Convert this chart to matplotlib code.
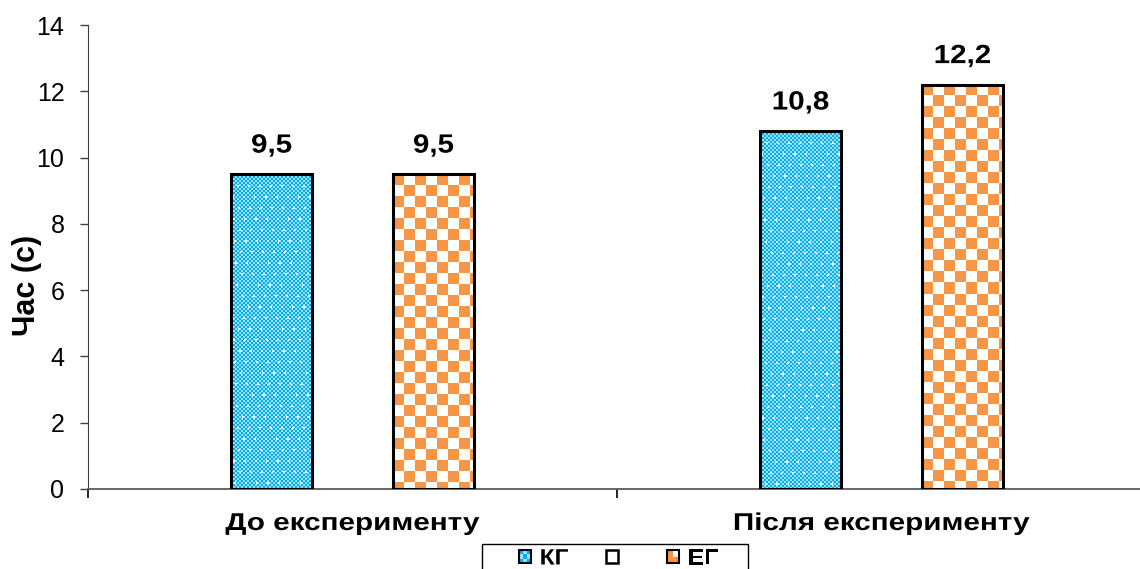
import numpy as np
import matplotlib
matplotlib.use("Agg")
import matplotlib.pyplot as plt
from matplotlib.patches import Rectangle
from matplotlib.patheffects import AbstractPathEffect
from matplotlib.transforms import Affine2D
from matplotlib.legend_handler import HandlerBase

# ---- data ----
categories = ["До експерименту", "Після експерименту"]
series_names = ["КГ", "", "ЕГ"]
kg_values = [9.5, 10.8]
blank_values = [np.nan, np.nan]
eg_values = [9.5, 12.2]
value_labels_kg = ["9,5", "10,8"]
value_labels_eg = ["9,5", "12,2"]
y_ticks = [0, 2, 4, 6, 8, 10, 12, 14]
y_label = "Час (с)"

plt.rcParams['font.family'] = ['Liberation Sans', 'DejaVu Sans']


class StretchX(AbstractPathEffect):
    """Widen glyphs horizontally (the reference text is stretched)."""
    def __init__(self, sx, anchor='center'):
        super().__init__()
        self.sx = sx
        self.anchor = anchor

    def draw_path(self, renderer, gc, tpath, affine, rgbFace=None):
        ext = tpath.get_extents()
        if self.anchor == 'right':
            cx = ext.x1
        elif self.anchor == 'left':
            cx = ext.x0
        else:
            cx = 0.5 * (ext.x0 + ext.x1)
        t = Affine2D().translate(-cx, 0).scale(self.sx, 1).translate(cx, 0) + affine
        renderer.draw_path(gc, tpath, t, rgbFace)


W, H, DPI = 1140, 569, 100
fig = plt.figure(figsize=(W / DPI, H / DPI), dpi=DPI)
ax = fig.add_axes([88 / W, 1 - 489 / H, (1146 - 88) / W, (489 - 25) / H])

BLUE = np.array([0x00, 0xAE, 0xF0]) / 255
LBLUE = np.array([0x9C, 0xE0, 0xFA]) / 255
ORANGE = np.array([0xF7, 0x96, 0x46]) / 255
WHITE = np.array([1.0, 1.0, 1.0])


def blue_pattern(h, w):
    yy, xx = np.mgrid[0:h, 0:w]
    chk = ((yy // 2 + xx // 2) % 2) == 0
    img = np.where(chk[..., None], BLUE, LBLUE)
    dots = ((yy % 11) < 2) & (((xx + (yy // 11) * 5) % 11) < 2)
    img[dots] = WHITE
    return img


def orange_pattern(h, w):
    yy, xx = np.mgrid[0:h, 0:w]
    chk = ((yy // 11 + xx // 11) % 2) == 0
    return np.where(chk[..., None], ORANGE, WHITE)


x = np.arange(len(categories))
bw = 0.153
offsets = [-bw, 0.0, bw]
series = [kg_values, blank_values, eg_values]
patterns = [blue_pattern, None, orange_pattern]

ax.set_xlim(-0.5, 1.5)
ax.set_ylim(0, 14)

px_per_x = (1146 - 88) / 2.0
px_per_y = (489 - 25) / 14.0

for vals, off, pat in zip(series, offsets, patterns):
    bars = ax.bar(x + off, vals, width=bw, facecolor='none',
                  edgecolor='black', linewidth=2.2, zorder=3)
    if pat is None:
        continue
    for b, v in zip(bars, vals):
        x0 = b.get_x()
        wpx = int(round(bw * px_per_x))
        hpx = int(round(v * px_per_y))
        img = pat(hpx, wpx)
        ax.imshow(img, extent=(x0, x0 + bw, 0, v), aspect='auto',
                  interpolation='nearest', origin='upper', zorder=2)

val_fx = [StretchX(1.12)]
for xi, v, lab in zip(x, kg_values, value_labels_kg):
    ax.text(xi + offsets[0], v + 0.65, lab, ha='center', va='baseline',
            fontsize=19, fontweight='bold', path_effects=val_fx)
for xi, v, lab in zip(x, eg_values, value_labels_eg):
    ax.text(xi + offsets[2], v + 0.65, lab, ha='center', va='baseline',
            fontsize=19, fontweight='bold', path_effects=val_fx)

ax.set_xlim(-0.5, 1.5)
ax.set_ylim(0, 14)

ax.set_yticks(y_ticks)
ax.set_yticklabels([str(t) for t in y_ticks], fontsize=18)
ax.tick_params(axis='y', direction='out', length=6, width=1, pad=11,
               color='#404040')

ax.set_xticks([-0.5, 0.5, 1.5])
ax.set_xticklabels([])
ax.tick_params(axis='x', direction='out', length=6.5, width=1.2, color='black')
cat_y = -(530 - 489) / px_per_y
for xi, c in zip(x, categories):
    ax.text(xi, cat_y, c, ha='center', va='baseline', fontsize=17.5,
            fontweight='bold', path_effects=[StretchX(1.22)])

ax.spines['top'].set_visible(False)
ax.spines['right'].set_visible(False)
ax.spines['left'].set_color('#404040')
ax.spines['bottom'].set_color('#5a5a5a')
ax.spines['bottom'].set_linewidth(1.3)

fig.text(27 / W, 1 - 285 / H, y_label, rotation=90, ha='center',
         va='center', fontsize=22, fontweight='bold')


# legend
class CheckerHandler(HandlerBase):
    def __init__(self, colors):
        super().__init__()
        self.colors = colors  # rows from bottom, each list of columns

    def create_artists(self, legend, orig_handle, xdescent, ydescent,
                       width, height, fontsize, trans):
        arts = []
        nr = len(self.colors)
        nc = len(self.colors[0])
        for r in range(nr):
            for c in range(nc):
                arts.append(Rectangle((-xdescent + c * width / nc,
                                       -ydescent + r * height / nr),
                                      width / nc, height / nr,
                                      facecolor=self.colors[r][c],
                                      edgecolor='none', transform=trans))
        arts.append(Rectangle((-xdescent, -ydescent), width, height,
                              facecolor='none', edgecolor='black',
                              linewidth=1.5, transform=trans))
        return arts


LB = '#9ce0fa'
h_kg = Rectangle((0, 0), 1, 1)
h_blank = Rectangle((0, 0), 1, 1, facecolor='white', edgecolor='black',
                    linewidth=1.8)
h_eg = Rectangle((0, 0), 1, 1)
handler_map = {
    h_kg: CheckerHandler([[BLUE, LB, BLUE], [LB, BLUE, LB], [BLUE, LB, BLUE]]),
    h_eg: CheckerHandler([[ORANGE, ORANGE], [ORANGE, 'white']]),
}
fs_leg = 16
em = fs_leg * DPI / 72.0
leg = fig.legend([h_kg, h_blank, h_eg], series_names, loc='center left',
                 bbox_to_anchor=(519 / W, 1 - 559 / H), ncol=3,
                 prop={'weight': 'bold', 'size': fs_leg}, frameon=False,
                 handlelength=12 / em, handleheight=12 / em,
                 handletextpad=10 / em, columnspacing=39 / em,
                 borderpad=0, borderaxespad=0, handler_map=handler_map)
for t in leg.get_texts():
    t.set_path_effects([StretchX(1.1)])

fig.patches.append(Rectangle((482 / W, -0.05), (748 - 482) / W,
                             (1 - 544 / H) + 0.05, transform=fig.transFigure,
                             facecolor='none', edgecolor='black',
                             linewidth=1.0))

fig.savefig("out.png", dpi=DPI)
